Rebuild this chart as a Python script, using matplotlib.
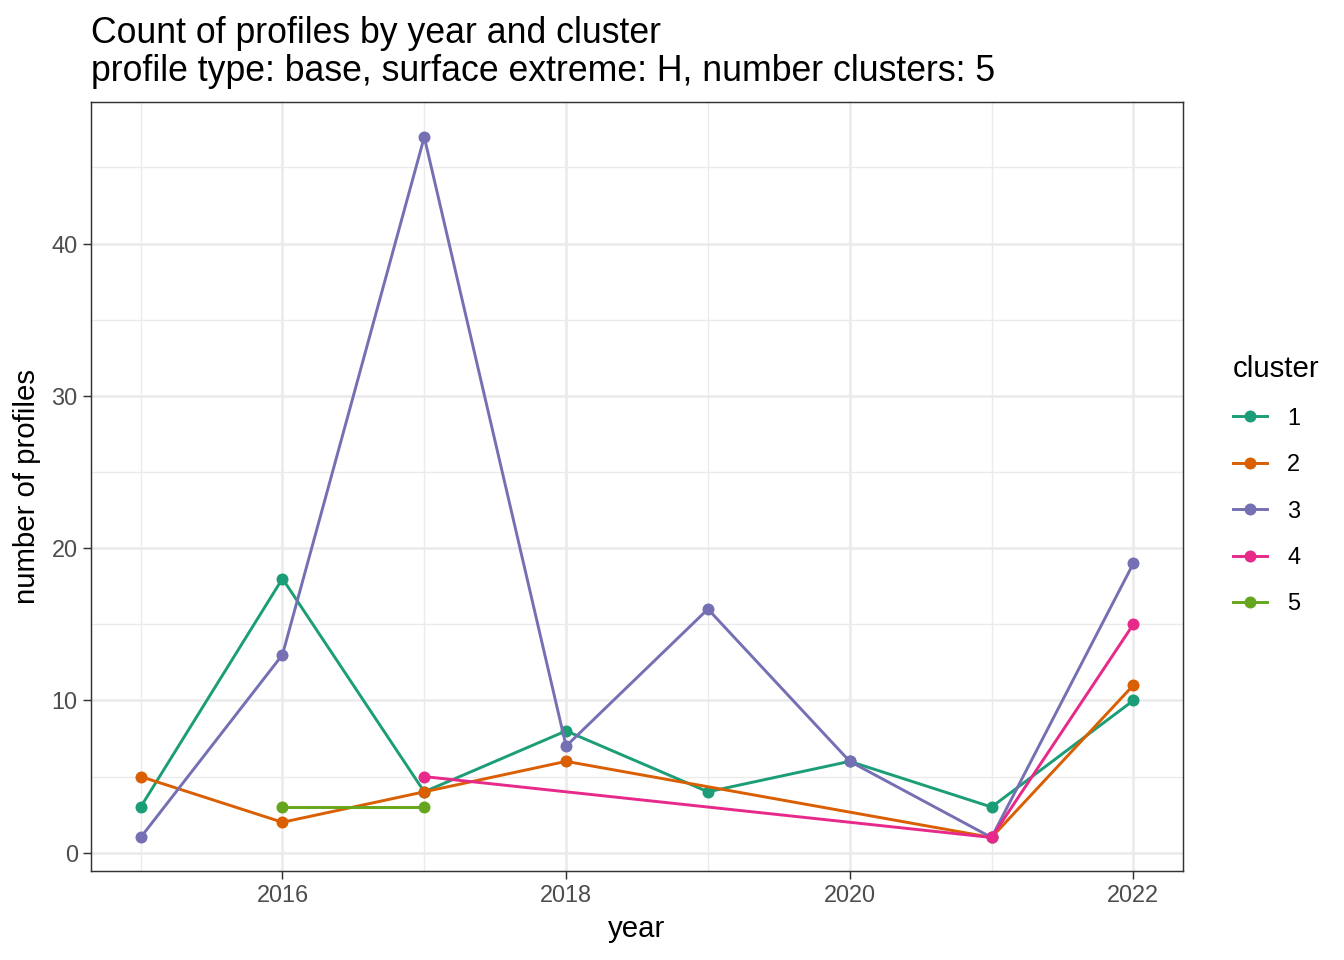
import numpy as np
import matplotlib.pyplot as plt
from matplotlib.lines import Line2D

years = [2015, 2016, 2017, 2018, 2019, 2020, 2021, 2022]

# cluster -> (years, counts)
c1_years = [2015, 2016, 2017, 2018, 2019, 2020, 2021, 2022]
c1_counts = [3, 18, 4, 8, 4, 6, 3, 10]
c2_years = [2015, 2016, 2017, 2018, 2021, 2022]
c2_counts = [5, 2, 4, 6, 1, 11]
c3_years = [2015, 2016, 2017, 2018, 2019, 2020, 2021, 2022]
c3_counts = [1, 13, 47, 7, 16, 6, 1, 19]
c4_years = [2017, 2021, 2022]
c4_counts = [5, 1, 15]
c5_years = [2016, 2017]
c5_counts = [3, 3]

cluster_labels = ["1", "2", "3", "4", "5"]
colors = ["#1B9E77", "#D95F02", "#7570B3", "#E7298A", "#66A61E"]

series = [(c1_years, c1_counts), (c2_years, c2_counts), (c3_years, c3_counts),
          (c4_years, c4_counts), (c5_years, c5_counts)]

plt.rcParams['font.family'] = ['Liberation Sans', 'DejaVu Sans']

fig = plt.figure(figsize=(14, 10), dpi=96)
ax = fig.add_axes([91 / 1344, 89 / 960, (1183 - 91) / 1344, (871 - 102) / 960])

for (xs, ys), col in zip(series, colors):
    ax.plot(xs, ys, color=col, linewidth=2.2, marker='o', markersize=9,
            markeredgewidth=0, zorder=3)

# ggplot-style 5% expansion around data range (1..47)
ax.set_xlim(2014.65, 2022.35)
ax.set_ylim(-1.2, 49.3)
ax.set_xticks([2016, 2018, 2020, 2022])
ax.set_xticks([2015, 2017, 2019, 2021], minor=True)
ax.set_yticks([0, 10, 20, 30, 40])
ax.set_yticks([5, 15, 25, 35, 45], minor=True)
ax.grid(which='major', color='#EBEBEB', linewidth=2.0, zorder=0)
ax.grid(which='minor', color='#EBEBEB', linewidth=1.0, zorder=0)
ax.set_axisbelow(True)

for s in ax.spines.values():
    s.set_color('#333333')
    s.set_linewidth(1.1)
ax.tick_params(which='major', length=6, width=1.1, color='#333333',
               labelsize=17.6, labelcolor='#4D4D4D', pad=4)
ax.tick_params(which='minor', length=0)

ax.set_xlabel("year", fontsize=22, labelpad=6)
ax.set_ylabel("number of profiles", fontsize=22, labelpad=8)

fig.text(91 / 1344, 1 - 16 / 960,
         "Count of profiles by year and cluster\nprofile type: base, surface extreme: H, number clusters: 5",
         fontsize=26.7, ha='left', va='top', linespacing=1.12)

handles = [Line2D([0], [0], color=c, linewidth=2.2, marker='o', markersize=9,
                  markeredgewidth=0) for c in colors]
leg = fig.legend(handles, cluster_labels, title="cluster", loc='upper left',
                 bbox_to_anchor=(1212 / 1344, 1 - 334 / 960), frameon=False,
                 fontsize=17.6, title_fontsize=22, handlelength=1.45,
                 labelspacing=1.0, handletextpad=0.85)
leg._legend_box.align = 'left'

fig.savefig("out.png", dpi=96)
